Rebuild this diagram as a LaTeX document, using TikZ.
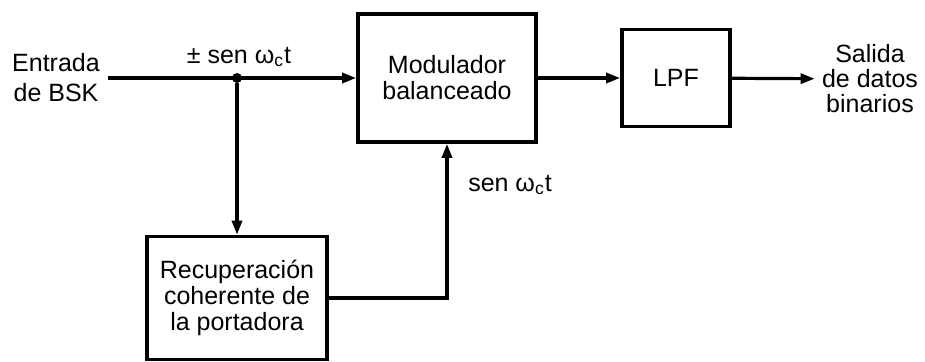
\documentclass[tikz,border=0pt]{standalone}
\usepackage{fontspec}
\setmainfont{Liberation Sans}
\usetikzlibrary{arrows.meta, positioning, calc}
\tikzset{
  block/.style = {rectangle, draw, line width=1.8pt, align=center,
                  font=\fontsize{12.5}{13}\selectfont, inner sep=2pt},
  sig/.style   = {-{Triangle[length=7pt, width=5pt]}, line width=1.6pt},
  lab/.style   = {font=\fontsize{12.5}{15}\selectfont, align=center, inner sep=1pt},
  dot/.style   = {circle, fill, inner sep=0pt, minimum size=5pt},
}

\begin{document}
\begin{tikzpicture}[x=0.5pt, y=-0.5pt]
\useasboundingbox (0,0) rectangle (925,362);

% ---------- Blocks ----------
\node[block, minimum width=89pt, minimum height=64pt] (mod) at (447,78) {Modulador\\balanceado};
\node[block, minimum width=54pt, minimum height=48.5pt] (lpf) at (676,78) {LPF};
\node[block, minimum width=90pt, minimum height=61.5pt] (rec) at (237,298) {Recuperación\\coherente de\\la portadora};

% ---------- Terminals ----------
\node[lab, inner sep=4pt] (entrada) at (56,78) {Entrada\\de BSK};
\node[lab, inner sep=3.5pt, font=\fontsize{12.5}{12.5}\selectfont] (salida) at (870,79) {Salida\\de datos\\binarios};

% ---------- Edges ----------
\draw[sig] (entrada) -- (mod);
\node[dot] (jn) at (rec.north |- mod.west) {};
\draw[sig] (jn) -- (rec);
\draw[sig] (rec) -| (mod);
\draw[sig] (mod) -- (lpf);
\draw[sig] (lpf) -- (salida);

% ---------- Labels ----------
\node[lab] (lpm) at (239,57) {± sen ω\textsubscript{c}t};
\node[lab] (lsen) at (510,185) {sen ω\textsubscript{c}t};

\end{tikzpicture}
\end{document}
